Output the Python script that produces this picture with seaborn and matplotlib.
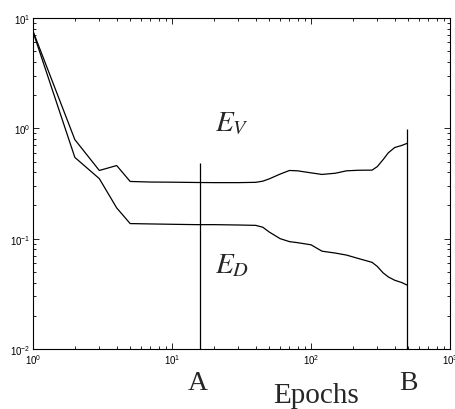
import matplotlib
matplotlib.use("Agg")
import matplotlib.pyplot as plt
import seaborn as sns
import numpy as np
from matplotlib.ticker import LogLocator, LogFormatterSciNotation, NullFormatter

epochs = [1, 2, 3, 4, 5, 7, 10, 15, 20, 30, 40, 45, 50, 60, 70, 80, 100, 120, 150, 180, 220, 275, 300, 330, 360, 400, 450, 490]
err_v = [7.6, 0.79, 0.415, 0.46, 0.33, 0.326, 0.325, 0.323, 0.322, 0.322, 0.324, 0.332, 0.348, 0.385, 0.415, 0.412, 0.395, 0.382, 0.392, 0.412, 0.417, 0.418, 0.45, 0.52, 0.6, 0.67, 0.70, 0.73]
err_d = [7.5, 0.545, 0.35, 0.19, 0.137, 0.136, 0.135, 0.134, 0.134, 0.133, 0.132, 0.127, 0.115, 0.1, 0.094, 0.092, 0.088, 0.077, 0.074, 0.071, 0.066, 0.061, 0.056, 0.049, 0.045, 0.042, 0.04, 0.038]
marker_x = [16, 490]
marker_top = [0.49, 0.98]
marker_labels = ["A", "B"]

sns.set_style("ticks")
plt.rcParams['font.family'] = ['Liberation Sans', 'DejaVu Sans']
plt.rcParams['mathtext.fontset'] = 'stix'

fig = plt.figure(figsize=(4.55, 4.10), dpi=100)
ax = fig.add_axes([33/455, 60/410, 417/455, 331/410])

sns.lineplot(x=epochs, y=err_v, ax=ax, color='black', lw=0.9, estimator=None, sort=False)
sns.lineplot(x=epochs, y=err_d, ax=ax, color='black', lw=0.9, estimator=None, sort=False)
ax.vlines(marker_x, 0.01, marker_top, color='black', lw=0.9)

ax.set_xscale('log')
ax.set_yscale('log')
ax.set_xlim(1, 1000)
ax.set_ylim(0.01, 10)

for axis in (ax.xaxis, ax.yaxis):
    axis.set_major_locator(LogLocator(base=10, numticks=10))
    axis.set_minor_locator(LogLocator(base=10, subs=np.arange(2, 10), numticks=50))
    axis.set_minor_formatter(NullFormatter())
    axis.set_major_formatter(LogFormatterSciNotation())

ax.tick_params(which='both', direction='in', top=True, right=True, labelsize=7, width=0.6, pad=2,
               color='black', labelcolor='black')
ax.tick_params(which='major', length=4)
ax.tick_params(which='minor', length=2)
for s in ax.spines.values():
    s.set_linewidth(0.8)
    s.set_color('black')

ax.set_xlabel('')
ax.set_ylabel('')

fig.text(215/455, (410-130)/410, r'$E_V$', fontsize=21, ha='left', va='baseline')
fig.text(215/455, (410-273)/410, r'$E_D$', fontsize=21, ha='left', va='baseline')
serif = ['Liberation Serif', 'DejaVu Serif']
fig.text(198/455, 20/410, marker_labels[0], fontsize=20, ha='center', va='baseline', family=serif)
fig.text(408/455, 20/410, marker_labels[1], fontsize=20, ha='center', va='baseline', family=serif)
fig.text(316/455, 7/410, 'Epochs', fontsize=21, ha='center', va='baseline', family=serif)

fig.savefig('out.png', dpi=100)
